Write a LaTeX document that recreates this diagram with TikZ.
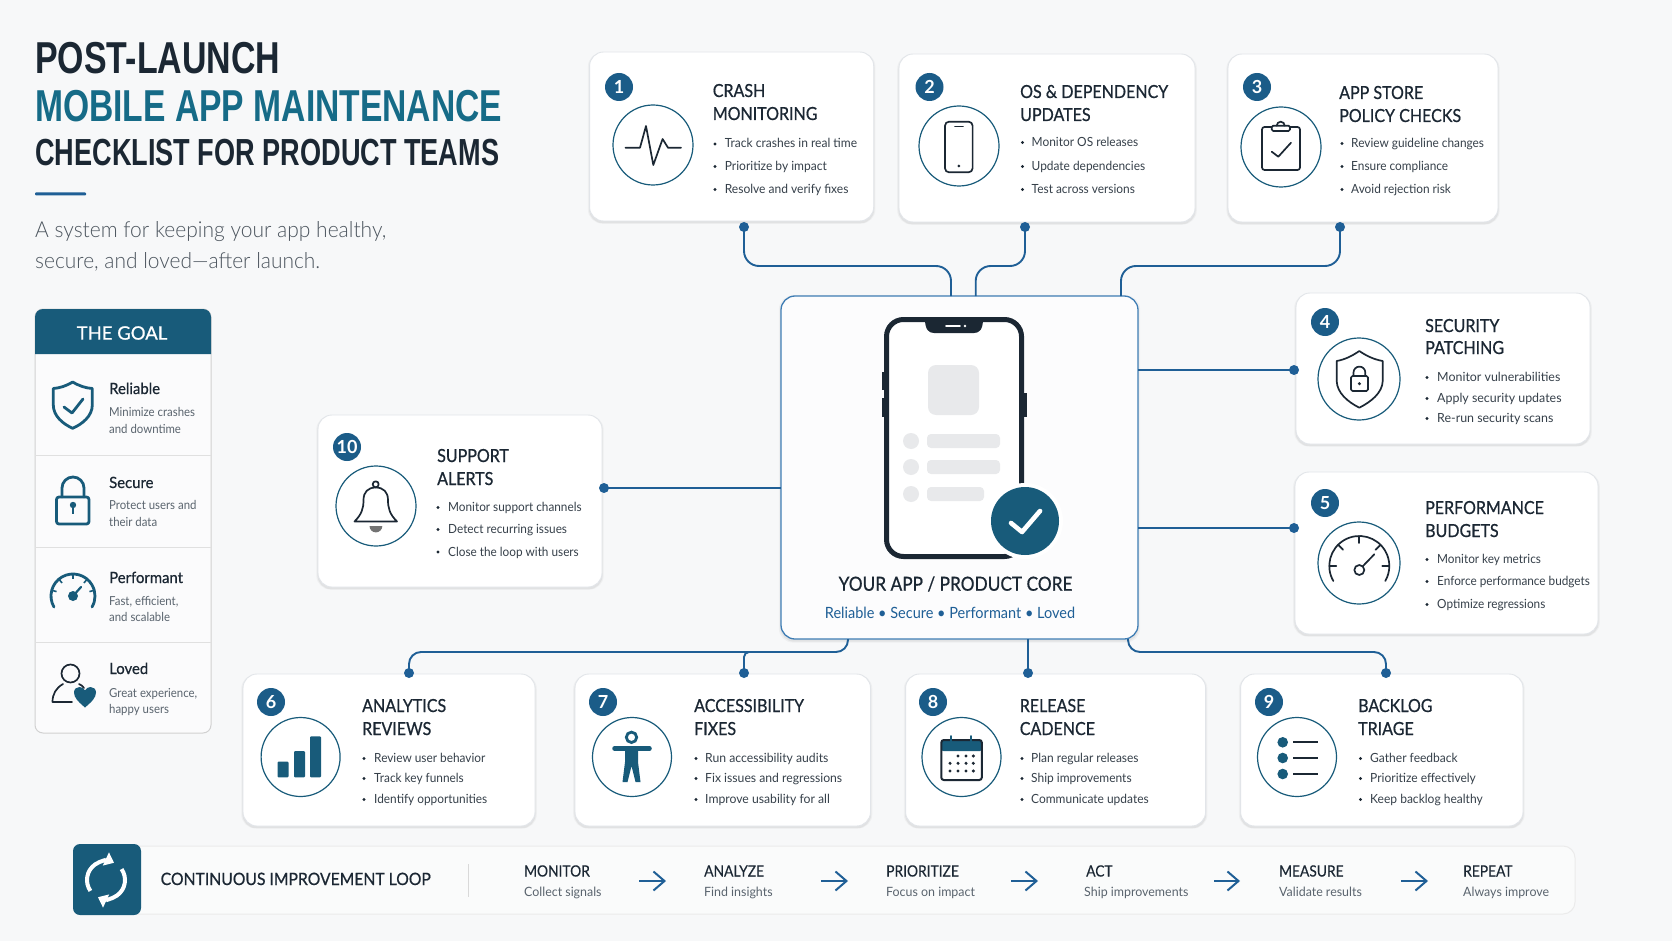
\documentclass[tikz,border=0pt]{standalone}
\usepackage{fontspec}
\usepackage{graphicx}
\usetikzlibrary{arrows.meta,shadows,calc}
\setmainfont{Lato}
\newfontfamily\headfont{Liberation Sans}[BoldFont={Liberation Sans Bold}]
\newfontfamily\medfont[FakeBold=0.7,FakeStretch=0.89]{Lato}
\newfontfamily\goalheadfont[FakeBold=0.6,FakeStretch=0.96]{Lato}
\newfontfamily\goalbodyfont[FakeStretch=0.92]{Lato}
\newfontfamily\stepheadfont[FakeBold=0.3,FakeStretch=0.89]{Lato}
\newfontfamily\stepbodyfont[FakeStretch=0.97]{Lato}
\newfontfamily\plainmed[FakeBold=0.7]{Lato}
\newfontfamily\thinfont{Lato Light}
\definecolor{bgc}{HTML}{F7F8F9}
\definecolor{navyc}{HTML}{1B5C88}
\definecolor{tealc}{HTML}{185B7A}
\definecolor{linkc}{HTML}{1F5F96}
\definecolor{inkc}{HTML}{1B2733}
\definecolor{bodyc}{HTML}{36404A}
\definecolor{greyc}{HTML}{5A646E}
\definecolor{edgec}{HTML}{E2E5E9}
\definecolor{corec}{HTML}{3F7DB4}
\definecolor{ghostc}{HTML}{E8E9EB}
\tikzset{
  softshadow/.style={
    general shadow={shadow xshift=0pt,shadow yshift=-1.5pt,shadow scale=1.012,fill=black,opacity=.035},
    general shadow={shadow xshift=0pt,shadow yshift=-2pt,shadow scale=1.004,fill=black,opacity=.05}},
  cardbox/.style={softshadow,fill=white,draw=edgec,line width=.9pt,rounded corners=14pt,inner sep=0pt,outer sep=0pt},
  corebox/.style={softshadow,fill=white!60!bgc,draw=corec,line width=1.3pt,rounded corners=14pt,inner sep=0pt,outer sep=0pt},
  badgec/.style={circle,fill=navyc,text=white,inner sep=0pt,minimum size=28pt,font=\bfseries\fontsize{18}{18}\selectfont},
  ringc/.style={draw=tealc,line width=1.2pt,fill=white},
  ctitle/.style={anchor=base west,inner sep=0pt,text=inkc,font=\medfont\fontsize{18}{18}\selectfont},
  cbody/.style={anchor=base west,inner sep=0pt,text=bodyc,font=\fontsize{12.6}{13}\selectfont},
  dotc/.style={circle,fill=linkc,inner sep=0pt,minimum size=10pt},
  linkl/.style={draw=linkc,line width=1.9pt},
  iconl/.style={draw=inkc,line width=1.7pt,line cap=round,line join=round},
  tealf/.style={fill=tealc},
  tealicon/.style={draw=tealc,line width=2.8pt,line cap=round,line join=round},
  goalh/.style={anchor=base west,inner sep=0pt,text=inkc,font=\goalheadfont\fontsize{15.5}{16}\selectfont},
  goald/.style={anchor=base west,inner sep=0pt,text=greyc,font=\goalbodyfont\fontsize{12.4}{13}\selectfont},
  steph/.style={anchor=base west,inner sep=0pt,text=inkc,font=\stepheadfont\fontsize{15.5}{16}\selectfont},
  stepd/.style={anchor=base west,inner sep=0pt,text=greyc,font=\stepbodyfont\fontsize{12.8}{13}\selectfont},
  steparrow/.style={draw=linkc,line width=2pt,-{Straight Barb[length=11pt,width=19pt,line width=2pt]}},
  headt/.style={anchor=base west,inner sep=0pt,font=\headfont\bfseries},
}
\newcommand{\wfit}[2]{\resizebox{#1pt}{\height}{#2}}
\newcommand{\bs}{.95}
\newcommand{\cardnode}[5]{\node[cardbox,minimum width={(#4-#2)*1pt},minimum height={(#5-#3)*1pt}] (#1) at ({(#2+#4)/2},{(#3+#5)/2}) {};}
\newcommand{\badgenode}[4]{\node[badgec] (#1b) at (#2,#3) {#4};}
\newcommand{\ringnode}[4]{\draw[ringc] (#2,#3) circle[radius=#4]; }
\newcommand{\titlelines}[6]{\node[ctitle] (#1t1) at (#2,#3) {#5}; \node[ctitle] (#1t2) at (#2,#4) {#6};}
\newcommand{\bulletrow}[5]{\fill[inkc] (#2,#4-4) circle[radius=1.7]; \node[cbody] (#1) at (#3,#4) {\scalebox{\bs}[1]{#5}};}
\begin{document}
\begin{tikzpicture}[x=1pt,y=-1pt]
\useasboundingbox (0,0) rectangle (1672,941);
\fill[bgc] (0,0) rectangle (1672,941);

% heading
\node[headt,text=inkc,font=\headfont\bfseries\fontsize{44.7}{45}\selectfont] (h1) at (35,74) {\wfit{245}{POST-LAUNCH}};
\node[headt,text=tealc!90!cyan,font=\headfont\bfseries\fontsize{44.7}{45}\selectfont] (h2) at (35,122) {\wfit{467}{MOBILE APP MAINTENANCE}};
\node[headt,text=inkc,font=\headfont\bfseries\fontsize{37.7}{38}\selectfont] (h3) at (35,166) {\wfit{464}{CHECKLIST FOR PRODUCT TEAMS}};
\fill[linkc,rounded corners=1pt] (35,192.5) rectangle (86,195.5);
\node[anchor=base west,inner sep=0pt,text=greyc!85!black,font=\thinfont\fontsize{22}{22}\selectfont] (s1) at (35,238) {\wfit{351}{A system for keeping your app healthy,}};
\node[anchor=base west,inner sep=0pt,text=greyc!85!black,font=\thinfont\fontsize{22}{22}\selectfont] (s2) at (35,269) {\wfit{285}{secure, and loved—after launch.}};

% goal panel
\node[fill=white!50!bgc,draw=black!18,line width=1pt,rounded corners=8pt,inner sep=0pt,minimum width=176pt,minimum height=424pt] (goal) at (123,521) {};
\fill[tealc] (35,354) [rounded corners=8pt] -- (35,309) -- (211,309) [sharp corners] -- (211,354) -- cycle;
\node[text=white,inner sep=0pt,font=\plainmed\fontsize{18.5}{19}\selectfont] (goalt) at (122,333) {THE GOAL};
\foreach \yy in {455,547,642} \draw[black!12,line width=.9pt] (35,\yy) -- (211,\yy);
\node[goalh] (g1) at (109,394) {Reliable};
\node[goald] (g1a) at (109,416) {Minimize crashes};
\node[goald] (g1b) at (109,433) {and downtime};
\node[goalh] (g2) at (109,488) {Secure};
\node[goald] (g2a) at (109,509) {Protect users and};
\node[goald] (g2b) at (109,526) {their data};
\node[goalh] (g3) at (109,583) {Performant};
\node[goald] (g3a) at (109,605) {Fast, efficient,};
\node[goald] (g3b) at (109,621) {and scalable};
\node[goalh] (g4) at (109,674) {Loved};
\node[goald] (g4a) at (109,697) {Great experience,};
\node[goald] (g4b) at (109,713) {happy users};
% goal icons
\draw[tealicon] (72.7,382) .. controls (66,386) and (60,388) .. (53.3,388.5) -- (53.3,405) .. controls (53.3,416) and (63,424) .. (72.7,428.3) .. controls (82.4,424) and (92.3,416) .. (92.3,405) -- (92.3,388.5) .. controls (85.4,388) and (79.4,386) .. cycle;
\draw[tealicon] (64,407) -- (72,413) -- (83,399);
\draw[tealicon,rounded corners=2.5pt] (56.5,497) rectangle (89,524);
\draw[tealicon] (62,497) -- (62,488) arc[start angle=180,end angle=360,radius=11] -- (84,497);
\fill[tealc] (73,505) circle[radius=3.2];
\draw[tealc,line width=2.6pt] (73,505) -- (73,514);
\draw[tealicon] (73,596) ++(150:22) arc[start angle=150,end angle=390,radius=22];
\foreach \aa in {195,230,270,310,345} \draw[tealc,line width=1.6pt] (73,596) ++(\aa:22) -- ++(\aa:-5);
\fill[tealc] (73,596) circle[radius=5];
\draw[tealc,line width=2.2pt,line cap=round] (73,596) -- (81,587);
\draw[iconl] (70.5,673.5) circle[radius=9];
\draw[iconl] (72,702) -- (52.5,702) .. controls (52.5,694) and (56,688) .. (63,684);
\draw[iconl] (79,684) .. controls (81,685) and (83,686) .. (84,688);
\fill[tealc] (85,707.5) .. controls (78,701.5) and (74,697.5) .. (74,692.5) .. controls (74,689) and (76.5,687) .. (79.5,687) .. controls (82,687) and (84,688.5) .. (85,690.5) .. controls (86,688.5) and (88,687) .. (90.5,687) .. controls (93.5,687) and (96,689) .. (96,692.5) .. controls (96,697.5) and (92,701.5) .. (85,707.5) -- cycle;

% core
\node[corebox,minimum width=357pt,minimum height=343pt] (core) at (959.5,467.5) {};
\coordinate (c1) at (951,296);
\coordinate (c2) at (975.7,296);
\coordinate (c3) at (1121,296);
\coordinate (c4) at (1138,370);
\coordinate (c5) at (1138,528);
\coordinate (c6) at (848,639);
\coordinate (c7) at (750,652);
\coordinate (c8) at (1028,639);
\coordinate (c9) at (1128,639);
\coordinate (c10) at (781,488);
% phone
\fill[inkc] (881.5,372) rectangle (885,390);
\fill[inkc] (881.5,398) rectangle (885,417);
\fill[inkc] (1023,393) rectangle (1026.5,417);
\draw[inkc,fill=white,line width=5pt,rounded corners=17pt] (886.5,319.5) rectangle (1021.5,556.5);
\fill[inkc] (925,319) -- (983,319) .. controls (983,330) and (979,333) .. (974,333) -- (934,333) .. controls (929,333) and (925,330) .. (925,319) -- cycle;
\draw[white,line width=1.6pt,line cap=round] (946,326) -- (960,326);
\fill[white] (965,326) circle[radius=1.3];
\fill[ghostc,rounded corners=8pt] (928,365) rectangle (979,415);
\fill[ghostc] (911,441) circle[radius=8];
\fill[ghostc] (911,467) circle[radius=8];
\fill[ghostc] (911,494) circle[radius=8];
\fill[ghostc,rounded corners=4pt] (927,434) rectangle (1000,448);
\fill[ghostc,rounded corners=4pt] (927,460) rectangle (1000,474);
\fill[ghostc,rounded corners=4pt] (927,487) rectangle (984,501);
\fill[white] (1025,521) circle[radius=38];
\fill[tealc] (1025,521) circle[radius=34];
\draw[white,line width=4.6pt,line cap=round,line join=round] (1011,523) -- (1022,532) -- (1040,511);
\node[inner sep=0pt,text=inkc,font=\medfont\fontsize{19.4}{19}\selectfont] (coret) at (955.5,584) {YOUR APP / PRODUCT CORE};
\node[inner sep=0pt,text=linkc,font=\fontsize{15.5}{16}\selectfont] (cores) at (950,613) {\scalebox{.936}[1]{Reliable • Secure • Performant • Loved}};

% card 1
\cardnode{k1}{589.6}{52}{873.7}{221}
\badgenode{k1}{619}{87}{1}
\ringnode{k1}{653}{145}{40}
\titlelines{k1}{712.6}{97}{120}{CRASH}{MONITORING}
\renewcommand{\bs}{.955}
\bulletrow{k1a}{715}{724.6}{148}{Track crashes in real time}
\bulletrow{k1c}{715}{724.6}{170.5}{Prioritize by impact}
\bulletrow{k1e}{715}{724.6}{193.5}{Resolve and verify fixes}
\draw[iconl] (625.5,147.7) -- (640,147.7) -- (646,126) -- (653.3,165) -- (662.6,139) -- (668,147.7) -- (681,147.7);
% card 2
\cardnode{k2}{899}{54}{1195}{222}
\badgenode{k2}{929.5}{87}{2}
\ringnode{k2}{959}{146}{40}
\titlelines{k2}{1020}{98}{121}{OS \& DEPENDENCY}{UPDATES}
\renewcommand{\bs}{.945}
\bulletrow{k2a}{1022.5}{1031.5}{146.5}{Monitor OS releases}
\bulletrow{k2c}{1022.5}{1031.5}{170.5}{Update dependencies}
\bulletrow{k2e}{1022.5}{1031.5}{193.5}{Test across versions}
\draw[iconl,rounded corners=4pt] (945,121.7) rectangle (972.6,172.3);
\draw[iconl] (955,126.5) -- (963,126.5);
\fill[inkc] (958.8,166) circle[radius=1.5];
% card 3
\cardnode{k3}{1228}{54}{1498}{222}
\badgenode{k3}{1257}{87}{3}
\ringnode{k3}{1281}{147}{40}
\titlelines{k3}{1339}{99}{122}{APP STORE}{POLICY CHECKS}
\renewcommand{\bs}{.94}
\bulletrow{k3a}{1342}{1351}{147.5}{Review guideline changes}
\bulletrow{k3c}{1342}{1351}{170.5}{Ensure compliance}
\bulletrow{k3e}{1342}{1351}{193.5}{Avoid rejection risk}
\draw[iconl,rounded corners=2.5pt] (1262,127) rectangle (1300,170);
\draw[iconl,fill=white,rounded corners=1.5pt] (1271.7,125.7) rectangle (1290,131);
\draw[iconl] (1276.7,125.7) arc[start angle=180,end angle=360,radius=4];
\draw[iconl] (1271.7,151.7) -- (1278.3,156.7) -- (1291,142.7);
% card 4
\cardnode{k4}{1296}{293}{1590}{444}
\badgenode{k4}{1325}{322}{4}
\ringnode{k4}{1359}{379}{41}
\titlelines{k4}{1425}{332}{354}{SECURITY}{PATCHING}
\renewcommand{\bs}{.985}
\bulletrow{k4a}{1427}{1437}{381.5}{Monitor vulnerabilities}
\bulletrow{k4c}{1427}{1437}{402.5}{Apply security updates}
\bulletrow{k4e}{1427}{1437}{422.5}{Re-run security scans}
\draw[iconl] (1359.3,351) .. controls (1352,356) and (1345,359.5) .. (1336.7,361) -- (1336.7,381) .. controls (1337,393) and (1348,402) .. (1359.3,407.7) .. controls (1370.6,402) and (1382.4,393) .. (1382.7,381) -- (1382.7,361) .. controls (1374,359.5) and (1366.6,356) .. cycle;
\draw[iconl,rounded corners=1.5pt] (1351,376) rectangle (1368,391);
\draw[iconl] (1353.5,376) -- (1353.5,372.5) arc[start angle=180,end angle=360,radius=5.9] -- (1365.3,376);
\fill[inkc] (1359.4,383.7) circle[radius=1.7];
% card 5
\cardnode{k5}{1295}{472}{1598}{634}
\badgenode{k5}{1325}{503}{5}
\ringnode{k5}{1359}{563}{41}
\titlelines{k5}{1425}{514}{537}{PERFORMANCE}{BUDGETS}
\renewcommand{\bs}{.935}
\bulletrow{k5a}{1427}{1437}{563.5}{Monitor key metrics}
\bulletrow{k5c}{1427}{1437}{585.5}{Enforce performance budgets}
\bulletrow{k5e}{1427}{1437}{608.5}{Optimize regressions}
\draw[iconl] (1359.3,566) ++(150:30) arc[start angle=150,end angle=390,radius=30];
\foreach \aa in {180,225,270,315,360} \draw[iconl] (1359.3,566) ++(\aa:30) -- ++(\aa:-7);
\draw[iconl] (1359.3,570) circle[radius=5];
\draw[iconl] (1362.5,566.5) -- (1374.3,554.3);
% card 6
\cardnode{k6}{243}{674}{535}{826}
\badgenode{k6}{271}{702}{6}
\ringnode{k6}{300.6}{757}{39.5}
\titlelines{k6}{362}{712}{735}{ANALYTICS}{REVIEWS}
\renewcommand{\bs}{.94}
\bulletrow{k6a}{364}{374}{762.5}{Review user behavior}
\bulletrow{k6c}{364}{374}{782.5}{Track key funnels}
\bulletrow{k6e}{364}{374}{803.5}{Identify opportunities}
\fill[tealc,rounded corners=1pt] (277.5,761.7) rectangle (288.5,777.3);
\fill[tealc,rounded corners=1pt] (294,751) rectangle (305,777.3);
\fill[tealc,rounded corners=1pt] (310,736.3) rectangle (321,777.3);
% card 7
\cardnode{k7}{575}{674}{870.5}{826}
\badgenode{k7}{603}{702}{7}
\ringnode{k7}{632}{757}{39.5}
\titlelines{k7}{694}{712}{735}{ACCESSIBILITY}{FIXES}
\renewcommand{\bs}{.968}
\bulletrow{k7a}{696}{705}{762.5}{Run accessibility audits}
\bulletrow{k7c}{696}{705}{782.5}{Fix issues and regressions}
\bulletrow{k7e}{696}{705}{803.5}{Improve usability for all}
\draw[tealc,line width=2.8pt] (631.5,737.3) circle[radius=5.2];
\draw[tealc,line width=4.5pt,line cap=round] (614.5,748.5) -- (649.5,748.5);
\fill[tealc] (625,749) -- (638,749) -- (638,762) -- (640.5,782) -- (635.5,782) -- (631.5,766) -- (627.5,782) -- (622.5,782) -- (625,762) -- cycle;
% card 8
\cardnode{k8}{905.6}{674}{1205.6}{826}
\badgenode{k8}{933}{702}{8}
\ringnode{k8}{961.5}{757}{39.5}
\titlelines{k8}{1019.6}{712}{735}{RELEASE}{CADENCE}
\renewcommand{\bs}{.95}
\bulletrow{k8a}{1022}{1031}{762.5}{Plan regular releases}
\bulletrow{k8c}{1022}{1031}{782.5}{Ship improvements}
\bulletrow{k8e}{1022}{1031}{803.5}{Communicate updates}
\fill[tealc,rounded corners=2pt] (941.3,740) rectangle (981.8,751);
\draw[inkc,line width=2pt,rounded corners=2.5pt] (941.3,740) rectangle (981.8,780);
\draw[tealc,line width=2pt,line cap=round] (951,736) -- (951,745);
\draw[tealc,line width=2pt,line cap=round] (971,736) -- (971,745);
\foreach \xx in {958,966,973.3} \fill[inkc] (\xx,756) circle[radius=1.7];
\foreach \xx in {950,958,966,973.3} {\fill[inkc] (\xx,763.3) circle[radius=1.7]; \fill[inkc] (\xx,771) circle[radius=1.7];}
% card 9
\cardnode{k9}{1240.6}{674}{1523}{826}
\badgenode{k9}{1269}{702}{9}
\ringnode{k9}{1297}{757}{39.5}
\titlelines{k9}{1358}{712}{735}{BACKLOG}{TRIAGE}
\renewcommand{\bs}{.955}
\bulletrow{k9a}{1360.5}{1370}{762.5}{Gather feedback}
\bulletrow{k9c}{1360.5}{1370}{782.5}{Prioritize effectively}
\bulletrow{k9e}{1360.5}{1370}{803.5}{Keep backlog healthy}
\foreach \yy in {742.3,758,774} {\fill[tealc] (1282.7,\yy) circle[radius=5.3]; \draw[inkc,line width=2pt] (1293,\yy) -- (1317.6,\yy);}
% card 10
\cardnode{k10}{318}{415}{602}{587}
\badgenode{k10}{347}{447}{10}
\ringnode{k10}{376}{506}{40}
\titlelines{k10}{437}{462}{485}{SUPPORT}{ALERTS}
\renewcommand{\bs}{.935}
\bulletrow{k10a}{438}{448}{511.5}{Monitor support channels}
\bulletrow{k10c}{438}{448}{533.5}{Detect recurring issues}
\bulletrow{k10e}{438}{448}{556}{Close the loop with users}
\draw[iconl] (354.5,521.5) .. controls (362,514) and (363.5,508) .. (363.5,500) .. controls (363.5,492) and (368,487.5) .. (375.7,487.5) .. controls (383.4,487.5) and (388,492) .. (388,500) .. controls (388,508) and (389.5,514) .. (397,521.5) -- cycle;
\draw[iconl] (375.7,484.3) circle[radius=3];
\fill[black!55] (369.5,526) arc[start angle=180,end angle=0,radius=6.4] -- cycle;

% connector dots
\node[dotc] (d1) at (744,227) {};
\node[dotc] (d2) at (1025,227) {};
\node[dotc] (d3) at (1340,227) {};
\node[dotc] (d4) at (1294,370) {};
\node[dotc] (d5) at (1294,528) {};
\node[dotc] (d6) at (409,673) {};
\node[dotc] (d7) at (744,673) {};
\node[dotc] (d8) at (1028,673) {};
\node[dotc] (d9) at (1386,673) {};
\node[dotc] (d10) at (604,488) {};
\draw[linkl,rounded corners=15pt] (d1.center) -- ++(0,39) -| (c1);
\draw[linkl,rounded corners=15pt] (d2.center) -- ++(0,39) -| (c2);
\draw[linkl,rounded corners=15pt] (d3.center) -- ++(0,39) -| (c3);
\draw[linkl] (d4.center) -- (c4);
\draw[linkl] (d5.center) -- (c5);
\draw[linkl,rounded corners=12pt] (c6) -- ++(0,13) -| (d6.center);
\draw[linkl,rounded corners=5pt] (c7) -| (d7.center);
\draw[linkl] (c8) -- (d8.center);
\draw[linkl,rounded corners=12pt] (c9) -- ++(0,13) -| (d9.center);
\draw[linkl] (d10.center) -- (c10);

% improvement loop
\node[fill=white!40!bgc,draw=black!8,line width=1pt,rounded corners=12pt,inner sep=0pt,minimum width=1495pt,minimum height=68pt] (loop) at (827.5,880) {};
\node[fill=tealc,rounded corners=7pt,inner sep=0pt,minimum width=68pt,minimum height=71pt] (loopi) at (107,879.5) {};
\draw[white,line width=4pt,-{Triangle[length=9pt,width=14pt]}] (106,880) ++(145:19) arc[start angle=145,end angle=295,radius=19];
\draw[white,line width=4pt,-{Triangle[length=9pt,width=14pt]}] (106,880) ++(325:19) arc[start angle=325,end angle=475,radius=19];
\node[anchor=base west,inner sep=0pt,text=inkc,font=\plainmed\fontsize{17}{17}\selectfont] (looplabel) at (160.5,885) {\wfit{270}{CONTINUOUS IMPROVEMENT LOOP}};
\draw[black!15,line width=1pt] (468,864) -- (468,897);
\node[steph] (m1) at (524,876.5) {MONITOR};
\node[stepd] (m2) at (524,896.5) {Collect signals};
\node[steph] (n1) at (704,876.5) {ANALYZE};
\node[stepd] (n2) at (704,896.5) {Find insights};
\node[steph] (p1) at (886,876.5) {PRIORITIZE};
\node[stepd] (p2) at (886,896.5) {Focus on impact};
\node[steph] (q1) at (1086,876.5) {ACT};
\node[stepd] (q2) at (1084,896.5) {Ship improvements};
\node[steph] (r1) at (1279,876.5) {MEASURE};
\node[stepd] (r2) at (1279,896.5) {Validate results};
\node[steph] (t1) at (1463,876.5) {REPEAT};
\node[stepd] (t2) at (1463,896.5) {Always improve};
\coordinate (a1s) at (639,881); \coordinate (a1e) at (666,881);
\coordinate (a2s) at (821,881); \coordinate (a2e) at (848,881);
\coordinate (a3s) at (1011,881); \coordinate (a3e) at (1038,881);
\coordinate (a4s) at (1214,881); \coordinate (a4e) at (1240,881);
\coordinate (a5s) at (1401,881); \coordinate (a5e) at (1428,881);
\draw[steparrow] (a1s) -- (a1e);
\draw[steparrow] (a2s) -- (a2e);
\draw[steparrow] (a3s) -- (a3e);
\draw[steparrow] (a4s) -- (a4e);
\draw[steparrow] (a5s) -- (a5e);
\end{tikzpicture}
\end{document}
